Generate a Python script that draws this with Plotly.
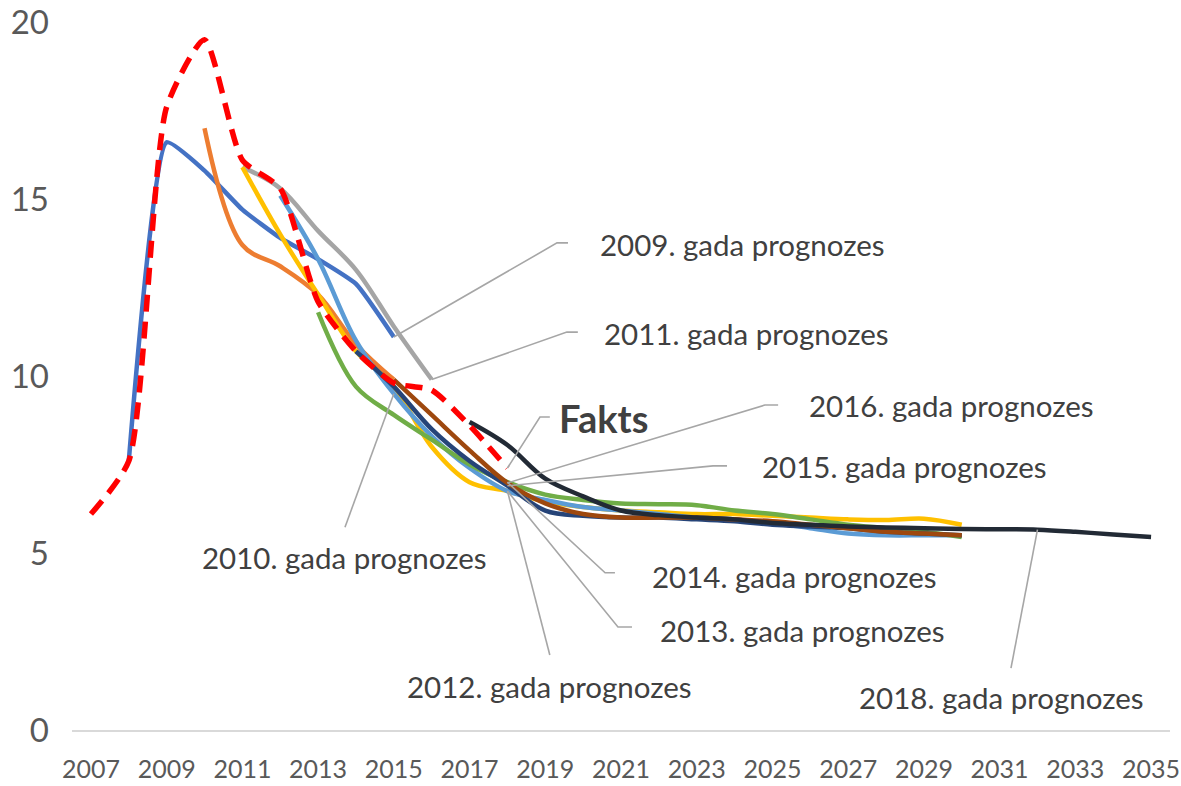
import plotly.graph_objects as go

# Gadi un prognožu rindas (vērtības nolasītas no attēla)
years_fakts = list(range(2007, 2019))
fakts = [6.1, 7.6, 17.6, 19.5, 16.1, 15.3, 12.1, 10.7, 9.8, 9.6, 8.6, 7.4]

years_2009 = list(range(2008, 2016))
prog_2009 = [7.6, 16.6, 15.8, 14.7, 13.9, 13.3, 12.6, 11.1]

years_2010 = list(range(2010, 2016))
prog_2010 = [17.0, 13.7, 13.1, 12.3, 10.9, 9.9]

years_2011 = list(range(2011, 2017))
prog_2011 = [15.9, 15.3, 14.1, 13.0, 11.4, 9.9]

years_2012 = list(range(2011, 2031))
prog_2012 = [15.9, 14.0, 12.3, 10.7, 9.7, 8.0, 7.0, 6.75, 6.45, 6.3, 6.2, 6.15,
             6.1, 6.1, 6.05, 6.0, 5.95, 5.93, 5.97, 5.8]

years_2013 = list(range(2012, 2031))
prog_2013 = [15.1, 13.3, 11.0, 9.5, 8.3, 7.4, 6.75, 6.5, 6.3, 6.2, 6.1, 6.0,
             5.95, 5.85, 5.7, 5.55, 5.5, 5.5, 5.5]

years_2014 = list(range(2013, 2031))
prog_2014 = [11.8, 9.7, 8.9, 8.2, 7.5, 7.0, 6.65, 6.5, 6.4, 6.38, 6.35, 6.2,
             6.1, 5.95, 5.8, 5.7, 5.6, 5.45]

years_2015 = list(range(2014, 2031))
prog_2015 = [10.7, 9.7, 8.5, 7.6, 6.9, 6.2, 6.05, 6.0, 6.0, 5.95, 5.9, 5.8,
             5.75, 5.7, 5.6, 5.55, 5.5]

years_2016 = list(range(2015, 2031))
prog_2016 = [9.9, 8.9, 7.9, 6.98, 6.4, 6.1, 6.0, 6.0, 6.0, 5.95, 5.9, 5.8,
             5.7, 5.6, 5.55, 5.5]

years_2018 = list(range(2017, 2036))
prog_2018 = [8.7, 8.05, 7.1, 6.6, 6.2, 6.07, 6.0, 5.95, 5.85, 5.8, 5.75, 5.72,
             5.7, 5.68, 5.67, 5.66, 5.6, 5.52, 5.45]

tick_years = list(range(2007, 2036, 2))
y_ticks = [0, 5, 10, 15, 20]

colors = {
    "2009": "#4472C4",
    "2010": "#ED7D31",
    "2011": "#A5A5A5",
    "2012": "#FFC000",
    "2013": "#5B9BD5",
    "2014": "#70AD47",
    "2015": "#264478",
    "2016": "#9E480E",
    "2018": "#222A35",
    "fakts": "#FF0000",
    "leader": "#A6A6A6",
    "text": "#404040",
}

series = [
    ("2009", years_2009, prog_2009, 0.45),
    ("2010", years_2010, prog_2010, 1.0),
    ("2011", years_2011, prog_2011, 1.0),
    ("2012", years_2012, prog_2012, 1.0),
    ("2013", years_2013, prog_2013, 1.0),
    ("2014", years_2014, prog_2014, 1.0),
    ("2015", years_2015, prog_2015, 1.0),
    ("2016", years_2016, prog_2016, 1.0),
    ("2018", years_2018, prog_2018, 1.0),
]


def val(years, values, year):
    return values[years.index(year)]


fig = go.Figure()

for key, xs, ys, sm in series:
    fig.add_trace(go.Scatter(
        x=xs, y=ys, mode="lines",
        line=dict(color=colors[key], width=4.5, shape="spline", smoothing=sm),
        name=f"{key}. gada prognozes", showlegend=False, hoverinfo="skip",
    ))

fig.add_trace(go.Scatter(
    x=years_fakts, y=fakts, mode="lines",
    line=dict(color=colors["fakts"], width=5.5, shape="spline", smoothing=0.6,
              dash="17px,10px"),
    name="Fakts", showlegend=False, hoverinfo="skip",
))

# === Etiķetes ar norādes līnijām ===
p18 = 2018
labels = [
    # teksts, sākumpunkts, lūzuma/beigu punkti, teksta vieta, enkurs
    ("2009. gada prognozes", (2015, val(years_2009, prog_2009, 2015)),
     [(2019.31, 13.76), (2019.6, 13.76)], (2020.4, 13.72), "left"),
    ("2011. gada prognozes", (2016, val(years_2011, prog_2011, 2016)),
     [(2019.57, 11.24), (2019.86, 11.24)], (2020.5, 11.2), "left"),
    ("<b>Fakts</b>", (p18, val(years_fakts, fakts, p18)),
     [(2018.86, 8.84), (2019.12, 8.84)], (2019.3, 8.8), "left"),
    ("2016. gada prognozes", (p18, val(years_2016, prog_2016, p18)),
     [(2024.8, 9.18), (2025.15, 9.18)], (2025.9, 9.18), "left"),
    ("2015. gada prognozes", (p18, val(years_2015, prog_2015, p18)),
     [(2023.43, 7.46), (2023.8, 7.46)], (2024.67, 7.43), "left"),
    ("2014. gada prognozes", (p18, val(years_2014, prog_2014, p18)),
     [(2020.58, 4.44), (2020.84, 4.44)], (2021.76, 4.35), "left"),
    ("2013. gada prognozes", (p18, val(years_2013, prog_2013, p18)),
     [(2020.92, 2.91), (2021.29, 2.91)], (2021.97, 2.82), "left"),
    ("2012. gada prognozes", (p18, val(years_2012, prog_2012, p18)),
     [(2019.12, 2.12)], (2019.12, 1.24), "center"),
    ("2010. gada prognozes", (2015, val(years_2010, prog_2010, 2015) - 0.4),
     [(2013.71, 5.73)], (2013.71, 4.88), "center"),
    ("2018. gada prognozes", (2032, val(years_2018, prog_2018, 2032)),
     [(2031.3, 1.75)], (2031.05, 0.93), "center"),
]

for text, start, pts, pos, xanchor in labels:
    lx = [start[0]] + [p[0] for p in pts]
    ly = [start[1]] + [p[1] for p in pts]
    fig.add_trace(go.Scatter(
        x=lx, y=ly, mode="lines",
        line=dict(color=colors["leader"], width=1.6),
        showlegend=False, hoverinfo="skip",
    ))
    bold = text.startswith("<b>")
    fig.add_annotation(
        x=pos[0], y=pos[1], text=text, showarrow=False,
        xanchor=xanchor, yanchor="middle",
        font=dict(family="Lato, sans-serif", size=38 if bold else 29.5,
                  color=colors["text"]),
    )

fig.update_layout(
    width=1181, height=786,
    autosize=False,
    margin=dict(l=72, r=11, t=22, b=56),
    plot_bgcolor="white",
    paper_bgcolor="white",
    font=dict(family="Lato, sans-serif", color="#595959"),
    showlegend=False,
)

fig.update_xaxes(
    range=[2006.5, 2035.5],
    tickmode="array", tickvals=tick_years, ticktext=[str(t) for t in tick_years],
    tickfont=dict(family="Lato, sans-serif", size=25, color="#595959"),
    tickangle=0,
    ticklabelstandoff=16,
    ticklabeloverflow="allow",
    automargin=False,
    showgrid=False, zeroline=False,
    showline=True, linecolor="#D9D9D9", linewidth=2,
    ticks="",
)
fig.update_yaxes(
    range=[0, 20],
    tickmode="array", tickvals=y_ticks,
    tickfont=dict(family="Lato, sans-serif", size=33, color="#595959"),
    ticklabelstandoff=22,
    ticklabeloverflow="allow",
    automargin=False,
    showgrid=False, zeroline=False, showline=False,
    ticks="",
)

# remove the default 8px page margin so the figure fills the window exactly
fig.write_html(
    "out.html",
    config={"displayModeBar": False},
    post_script="document.body.style.margin='0';document.body.style.overflow='hidden';",
)
